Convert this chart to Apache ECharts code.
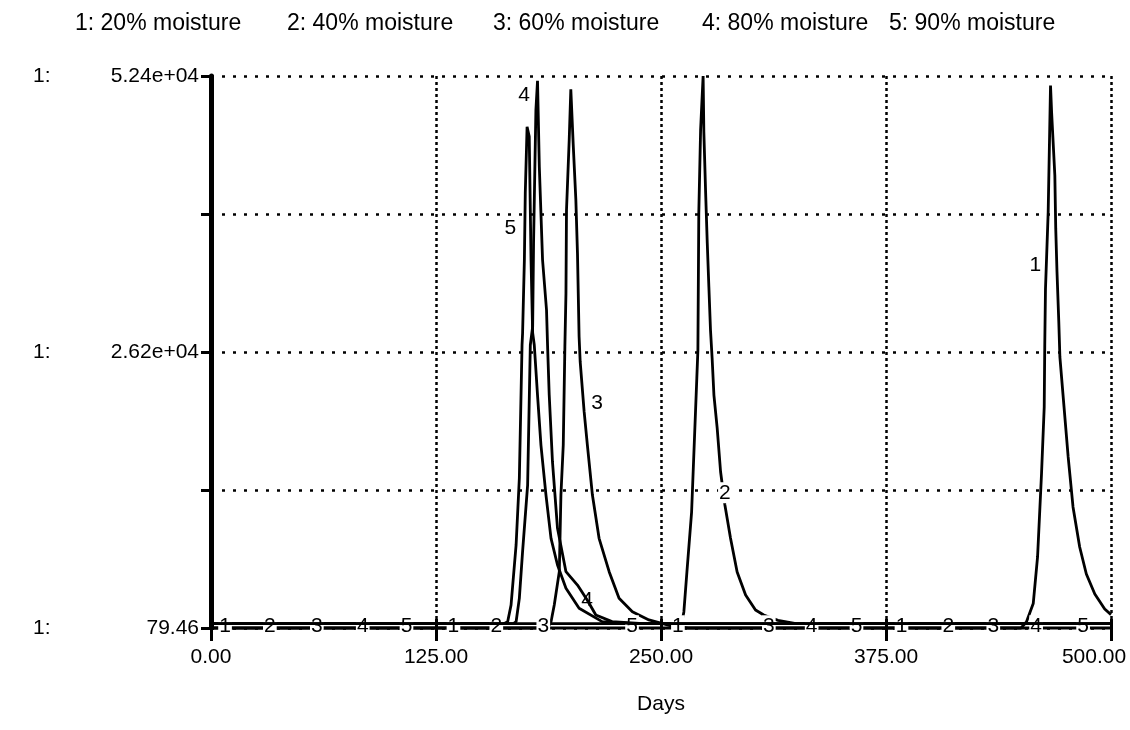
<!DOCTYPE html>
<html><head><meta charset="utf-8">
<script src="https://cdn.jsdelivr.net/npm/echarts@6/dist/echarts.min.js"></script>
<style>html,body{margin:0;padding:0;background:#fff}#c{width:1130px;height:730px}</style>
</head><body><div id="c"></div>
<script>
// ---- data ----
const seriesNames = ['1: 20% moisture', '2: 40% moisture', '3: 60% moisture', '4: 80% moisture', '5: 90% moisture'];
const labelNums = ['1', '2', '3', '4', '5'];
const xTickLabels = ['0.00', '125.00', '250.00', '375.00', '500.00'];
const yTickLabels = ['79.46', '', '2.62e+04', '', '5.24e+04'];
const xMin = 0, xMax = 500, xStep = 125;
const yMin = 79.46, yMax = 52400;

// [day, value]
const moist20 = [[0,79.46],[450,79.46],[453,650],[456.8,2400],[459.2,6810],[461.4,14700],[462.9,21030],[463.2,26860],[463.6,32210],[465.1,39500],[466.4,51500],[467,48990],[468.8,42970],[469.3,37930],[470,33820],[471,29080],[471.6,25770],[473.9,21030],[476.2,16290],[478.9,11550],[482.6,7760],[486.3,5200],[491,3300],[496.5,1880],[500,1350]];
const moist40 = [[0,500],[258,500],[261.6,650],[262.7,1600],[264.4,5390],[267,11070],[269.9,23780],[270.5,26430],[271,39410],[272,47280],[273.4,52400],[273.8,47120],[274.8,41310],[275.7,36570],[276.6,32400],[277.5,28320],[278.4,25670],[279.4,22160],[281.2,19040],[283.1,14890],[285.5,11740],[288.6,8610],[292.3,5390],[297,3210],[302.5,1790],[307.1,1310],[315,800],[325,500],[500,500]];
const moist60 = [[0,79.46],[187,79.46],[188.9,680],[190.7,2260],[193.5,5420],[194.4,12690],[195.7,17420],[196.6,26740],[197.2,31800],[197.5,39700],[199,46330],[199.9,51140],[201.2,46020],[202.7,40650],[203.6,35590],[204.5,27690],[205.1,25320],[207.3,20580],[209.1,17420],[211.9,12680],[215.6,8580],[221.2,5420],[226.7,2890],[234.1,1620],[243.3,840],[255,300],[265,79.46],[500,79.46]];
const moist80 = [[0,500],[168,500],[169.5,676],[171.3,2890],[173.1,7310],[175.9,13630],[177.4,26900],[178.7,28640],[179.2,36540],[180,44440],[180.5,49170],[181.4,51950],[182.4,43800],[184.2,34960],[186.4,30220],[187,26740],[187.9,22160],[189.7,15840],[192.5,9530],[197.2,5420],[203.6,4150],[209,2730],[213.8,1310],[222.8,680],[240,500],[500,500]];
const moist90 = [[0,500],[163,500],[164.8,676],[166.7,2260],[169.5,7950],[171.3,14270],[172.8,26900],[173.1,28010],[174.1,34960],[174.6,41280],[175.6,47590],[176.8,46650],[177.8,34960],[178.7,28040],[179.6,26900],[181.4,22160],[183.3,17420],[186.1,12680],[188.9,8580],[192.5,6050],[197.2,3840],[204.5,1950],[217.3,680],[234,500],[500,500]];

// positions of the series number tags, [day, value]
const tags20 = [[7.8,290],[134.7,290],[259.4,290],[383.6,290],[457.9,34440]];
const tags40 = [[32.7,290],[158.5,290],[285.5,12900],[409.6,290]];
const tags60 = [[58.8,290],[184.6,290],[309.9,290],[434.6,290],[214.5,21400]];
const tags80 = [[84.3,290],[209,2730],[333.7,290],[458.4,290],[174,50600]];
const tags90 = [[108.6,290],[233.9,290],[358.6,290],[484.5,290],[166.3,37990]];

const seriesData = [moist20, moist40, moist60, moist80, moist90];
const tagData = [tags20, tags40, tags60, tags80, tags90];
const legendLeft = [70, 282, 488, 697, 884];

// ---- chart ----
const FONT = '"Liberation Sans", Arial, sans-serif';
const chart = echarts.init(document.getElementById('c'), null, {renderer: 'canvas'});
const yInterval = (yMax - yMin) / 4;

const option = {
  animation: false,
  backgroundColor: '#fff',
  textStyle: {fontFamily: FONT, color: '#000'},
  legend: seriesNames.map((n, i) => ({
    data: [n], left: legendLeft[i], top: 7, icon: 'rect', itemWidth: 0, itemHeight: 0, itemGap: 0,
    selectedMode: false,
    textStyle: {fontFamily: FONT, fontSize: 23, color: '#000', padding: [0,0,0,-5]}
  })),
  grid: {left: 211, right: 19, top: 76, bottom: 102, outerBoundsMode: 'none', containLabel: false},
  xAxis: [{
    type: 'value', min: xMin, max: xMax, interval: xStep,
    name: 'Days', nameLocation: 'middle', nameGap: 66,
    nameTextStyle: {fontFamily: FONT, fontSize: 21, color: '#000'},
    axisLine: {show: false},
    axisTick: {show: true, length: 13, lineStyle: {color: '#000', width: 3}},
    axisLabel: {margin: 19, fontFamily: FONT, fontSize: 21, color: '#000',
      formatter: (v, i) => i === xTickLabels.length - 1 ? '{r|' + xTickLabels[i] + '}' : xTickLabels[i],
      rich: {r: {fontFamily: FONT, fontSize: 21, color: '#000', padding: [0, 34, 0, 0]}}},
    splitLine: {show: true, lineStyle: {color: '#000', width: 2.5, type: [3, 3]}}
  }, {
    type: 'value', min: xMin, max: xMax, interval: xStep, position: 'bottom',
    axisLine: {show: false}, axisLabel: {show: false}, splitLine: {show: false},
    axisTick: {show: true, inside: true, length: 9, lineStyle: {color: '#000', width: 3}}
  }],
  yAxis: {
    type: 'value', min: yMin, max: yMax, interval: yInterval,
    axisLine: {show: true, lineStyle: {color: '#000', width: 5}},
    axisTick: {show: true, length: 10, lineStyle: {color: '#000', width: 3}},
    axisLabel: {
      margin: 12, fontFamily: FONT, fontSize: 21, color: '#000',
      formatter: (v, i) => yTickLabels[i] ? '{p|1:}{v|' + yTickLabels[i] + '}' : '',
      rich: {
        p: {width: 68, align: 'left', fontFamily: FONT, fontSize: 21, color: '#000'},
        v: {width: 98, align: 'right', fontFamily: FONT, fontSize: 21, color: '#000'}
      }
    },
    splitLine: {show: true, lineStyle: {color: '#000', width: 2.5, type: [3, 8]}}
  },
  series: seriesData.map((d, i) => ({
    name: seriesNames[i], type: 'line', data: d, xAxisIndex: 0, clip: false,
    symbol: 'none', showSymbol: false, smooth: false,
    lineStyle: {color: '#000', width: 2.8}, itemStyle: {color: '#000'},
    z: 2 + i,
    markPoint: {
      symbol: 'rect', symbolSize: 1, silent: true,
      itemStyle: {color: 'rgba(0,0,0,0)'},
      label: {show: true, position: 'inside', fontFamily: FONT, fontSize: 21, color: '#000',
        backgroundColor: '#fff', padding: [0, 1], formatter: () => labelNums[i]},
      data: tagData[i].map(c => ({coord: c}))
    }
  }))
};
chart.setOption(option);
</script>
</body></html>
